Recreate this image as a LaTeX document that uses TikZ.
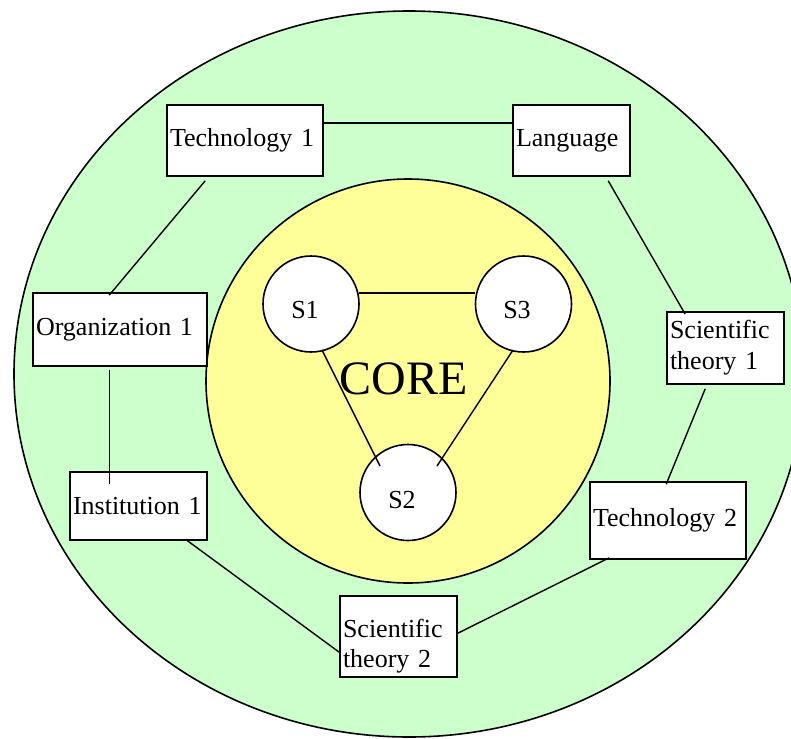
\documentclass[tikz,border=0pt]{standalone}
\usepackage{fontspec}
\setmainfont{Liberation Serif}
\usetikzlibrary{calc}
\definecolor{outergreen}{HTML}{CCFFCC}
\definecolor{coreyellow}{HTML}{FFFF99}
\tikzset{
  box/.style={draw=black, line width=1.6pt, fill=white, rectangle, inner xsep=3pt, inner ysep=0pt,
    align=left, font=\fontsize{26}{31}\selectfont},
  circ/.style={draw=black, line width=1.6pt, fill=white, circle, minimum size=96pt, inner sep=0pt},
  conn/.style={line width=1.4pt, draw=black},
  lbl/.style={font=\fontsize{26}{31}\selectfont, inner sep=0pt},
  ring/.style={draw=black, line width=1.6pt}
}
\begin{document}
\begin{tikzpicture}[x=1pt,y=-1pt]
\useasboundingbox (0,0) rectangle (791,738);
\clip (0,0) rectangle (791,738);
% rings
\draw[ring, fill=outergreen] (409,374) ellipse [x radius=395pt, y radius=363pt];
\draw[ring, fill=coreyellow] (408,381) circle [radius=202pt];
% outer boxes
\node[box, minimum width=156pt, minimum height=71pt, text width=150pt] (t1) at (245,140.5) {Technology 1};
\node[box, minimum width=117pt, minimum height=71pt, text width=111pt] (lang) at (571.5,140.5) {Language};
\node[box, minimum width=174pt, minimum height=73pt, text width=168pt] (org1) at (120,329.5) {Organization 1};
\node[box, minimum width=137pt, minimum height=68pt, text width=131pt] (inst1) at (138.5,506) {Institution 1};
\node[box, minimum width=117pt, minimum height=72pt, text width=111pt] (st1) at (725.5,348) {Scientific\\theory 1};
\node[box, minimum width=156pt, minimum height=77pt, text width=150pt] (tech2) at (668,520.5) {Technology 2};
\node[box, minimum width=117pt, minimum height=81pt, text width=111pt, text depth=16pt,
      font=\fontsize{26}{30}\selectfont] (st2) at (398.5,636.5) {Scientific\\theory 2};
% core
\node[font=\fontsize{48}{56}\selectfont, inner sep=0pt] (core) at (403.5,379) {CORE};
\node[circ, label={[lbl, name=s1l, xshift=-6pt, yshift=-6pt]center:S1}] (s1) at (311,304) {};
\node[circ, label={[lbl, name=s3l, xshift=-6.5pt, yshift=-6pt]center:S3}] (s3) at (523.5,304) {};
\node[circ, label={[lbl, name=s2l, xshift=-6pt, yshift=-7.5pt]center:S2}] (s2) at (408,492.5) {};
% outer connectors
\draw[conn] ($(t1.north east)+(0,19)$) -- ($(lang.north west)+(0,19)$);
\draw[conn] ($(t1.south west)+(39,4)$) -- ($(org1.north west)+(77,3)$);
\draw[conn] ($(org1.south west)+(77,3)$) -- ($(inst1.north west)+(40,13)$);
\draw[conn] ($(inst1.south west)+(117,-1)$) -- ($(st2.north west)+(0,57)$);
\draw[conn] ($(st2.north east)+(0,38)$) -- ($(tech2.south west)+(20,-2)$);
\draw[conn] ($(tech2.north west)+(77,3)$) -- ($(st1.south west)+(39,4)$);
\draw[conn] ($(st1.north west)+(19,3)$) -- ($(lang.south west)+(96,4)$);
% core connectors
\draw[conn] ($(s1.center)+(48,-11)$) -- ($(s3.center)+(-48.5,-11)$);
\draw[conn] ($(s1.center)+(11,46)$) -- ($(s2.center)+(-28,-26.5)$);
\draw[conn] ($(s3.center)+(-10.5,46)$) -- ($(s2.center)+(29,-26.5)$);
\end{tikzpicture}
\end{document}
